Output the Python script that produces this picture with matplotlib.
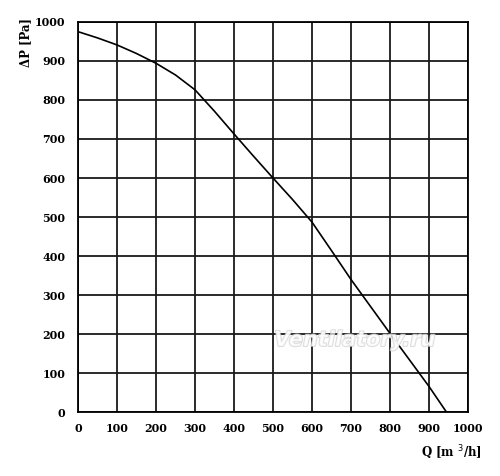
import matplotlib
matplotlib.use("Agg")
import matplotlib.pyplot as plt
import matplotlib.patheffects as pe

# fan curve
flow = [0, 50, 100, 150, 200, 250, 300, 350, 400, 450, 500,
        550, 600, 650, 700, 750, 800, 850, 900, 945]
pressure = [975, 959, 941, 919, 894, 864, 826, 771, 713, 656, 600,
            545, 487, 414, 340, 271, 202, 134, 66, 0]

xticks = list(range(0, 1001, 100))
yticks = list(range(0, 1001, 100))

plt.rcParams['font.family'] = ['DejaVu Serif', 'DejaVu Sans']

fig = plt.figure(figsize=(5.0, 4.76), dpi=100)
ax = fig.add_axes([0.156, 0.134, 0.78, 0.82])

ax.plot(flow, pressure, color='black', linewidth=1.2, zorder=3)

ax.set_xlim(0, 1000)
ax.set_ylim(0, 1000)
ax.set_xticks(xticks)
ax.set_yticks(yticks)
ax.grid(True, color='#1a1a1a', linewidth=1.3)
for s in ax.spines.values():
    s.set_linewidth(1.3)
ax.tick_params(axis='y', length=0, pad=9, labelsize=8)
ax.tick_params(axis='x', length=0, pad=8, labelsize=8)
for lab in ax.get_xticklabels() + ax.get_yticklabels():
    lab.set_fontweight('bold')

fig.text(0.052, 0.962, 'ΔP [Pa]', rotation=90, ha='center', va='top',
         fontsize=8.5, fontweight='bold')
fig.text(0.964, 0.05, 'Q [m $^3$/h]', ha='right', va='center',
         fontsize=8.5, fontweight='bold')

ax.text(710, 185, 'Ventilatory.ru', ha='center', va='center', fontsize=15,
        style='italic', fontweight='bold', family='DejaVu Sans', color='white',
        alpha=0.75, path_effects=[pe.withStroke(linewidth=1.3, foreground='#cfcfcf')],
        zorder=4)

fig.savefig('out.png', dpi=100)
